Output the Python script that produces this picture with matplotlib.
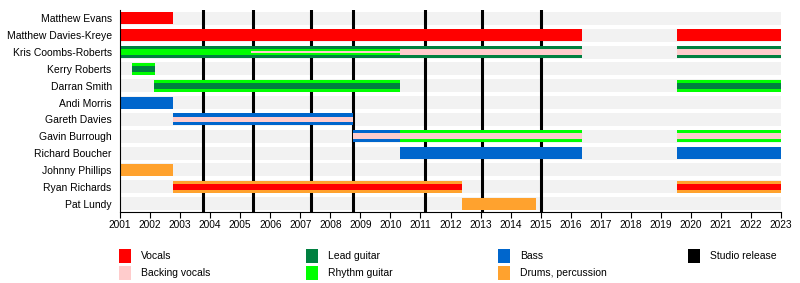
import matplotlib.pyplot as plt
from matplotlib.patches import Rectangle

plt.rcParams['font.family'] = ['Liberation Sans', 'DejaVu Sans']

members = ["Matthew Evans", "Matthew Davies-Kreye", "Kris Coombs-Roberts",
           "Kerry Roberts", "Darran Smith", "Andi Morris", "Gareth Davies",
           "Gavin Burrough", "Richard Boucher", "Johnny Phillips",
           "Ryan Richards", "Pat Lundy"]

role_names = ["Vocals", "Backing vocals", "Lead guitar", "Rhythm guitar",
              "Bass", "Drums, percussion", "Studio release"]
role_colors = ["#ff0000", "#ffcccc", "#008040", "#00ff00",
               "#0066cc", "#ffa22e", "#000000"]
colors = dict(zip(role_names, role_colors))

releases = [2003.77, 2005.44, 2007.35, 2008.77, 2011.15, 2013.05, 2015.0]

# (member, start, end, outer role, inner role, core role)
stints = [
    ("Matthew Evans", 2001.0, 2002.76, "Vocals", None, None),
    ("Matthew Davies-Kreye", 2001.0, 2016.37, "Vocals", None, None),
    ("Matthew Davies-Kreye", 2019.55, 2023.0, "Vocals", None, None),
    ("Kris Coombs-Roberts", 2001.0, 2005.37, "Lead guitar", "Rhythm guitar", None),
    ("Kris Coombs-Roberts", 2005.37, 2010.32, "Lead guitar", "Rhythm guitar", "Backing vocals"),
    ("Kris Coombs-Roberts", 2010.32, 2016.37, "Lead guitar", "Backing vocals", None),
    ("Kris Coombs-Roberts", 2019.55, 2023.0, "Lead guitar", "Backing vocals", None),
    ("Kerry Roberts", 2001.4, 2002.16, "Rhythm guitar", "Lead guitar", None),
    ("Darran Smith", 2002.13, 2010.32, "Rhythm guitar", "Lead guitar", None),
    ("Darran Smith", 2019.55, 2023.0, "Rhythm guitar", "Lead guitar", None),
    ("Andi Morris", 2001.0, 2002.76, "Bass", None, None),
    ("Gareth Davies", 2002.76, 2008.75, "Bass", "Backing vocals", None),
    ("Gavin Burrough", 2008.75, 2010.32, "Bass", "Backing vocals", None),
    ("Gavin Burrough", 2010.32, 2016.37, "Rhythm guitar", "Backing vocals", None),
    ("Gavin Burrough", 2019.55, 2023.0, "Rhythm guitar", "Backing vocals", None),
    ("Richard Boucher", 2010.32, 2016.37, "Bass", None, None),
    ("Richard Boucher", 2019.55, 2023.0, "Bass", None, None),
    ("Johnny Phillips", 2001.0, 2002.76, "Drums, percussion", None, None),
    ("Ryan Richards", 2002.76, 2012.37, "Drums, percussion", "Vocals", None),
    ("Ryan Richards", 2019.55, 2023.0, "Drums, percussion", "Vocals", None),
    ("Pat Lundy", 2012.37, 2014.84, "Drums, percussion", None, None),
]

years = list(range(2001, 2024))

fig = plt.figure(figsize=(8, 2.83), dpi=100)
ax = fig.add_axes([120 / 800, 1 - 212 / 283, 661 / 800, 202 / 283])

n = len(members)
for i in range(n):
    ax.add_patch(Rectangle((years[0], i - 0.39), years[-1] - years[0], 0.78,
                           color="#f2f2f2", lw=0, zorder=0))

for x in releases:
    ax.axvline(x, color="black", lw=2.2, zorder=1)

heights = [0.72, 0.34, 0.16]
for name, x0, x1, *roles in stints:
    y = members.index(name)
    for role, h in zip(roles, heights):
        if role is None:
            continue
        ax.add_patch(Rectangle((x0, y - h / 2), x1 - x0, h,
                               color=colors[role], lw=0, zorder=2))

ax.set_xlim(years[0], years[-1])
ax.set_ylim(n - 0.5, -0.5)
ax.set_yticks(range(n))
ax.set_yticklabels(members, fontsize=7.5)
ax.tick_params(axis="y", length=0, pad=6)
ax.set_xticks(years)
ax.set_xticklabels([str(y) for y in years], fontsize=7.3)
ax.tick_params(axis="x", length=4, width=0.8, pad=2)
for s in ["top", "right"]:
    ax.spines[s].set_visible(False)
ax.spines["left"].set_linewidth(0.8)
ax.spines["bottom"].set_linewidth(0.8)

# legend, two rows per column
col_x = [119, 306, 498, 688]
row_y = [249, 266]
for k, (name, col) in enumerate(zip(role_names, role_colors)):
    cx = col_x[k // 2]
    cy = row_y[k % 2]
    fig.patches.append(Rectangle((cx / 800, 1 - (cy + 14) / 283), 12 / 800, 14 / 283,
                                 transform=fig.transFigure, color=col, lw=0))
    fig.text((cx + 22) / 800, 1 - (cy + 7) / 283, name, fontsize=7.5, va="center")

fig.savefig("out.png", dpi=100)
